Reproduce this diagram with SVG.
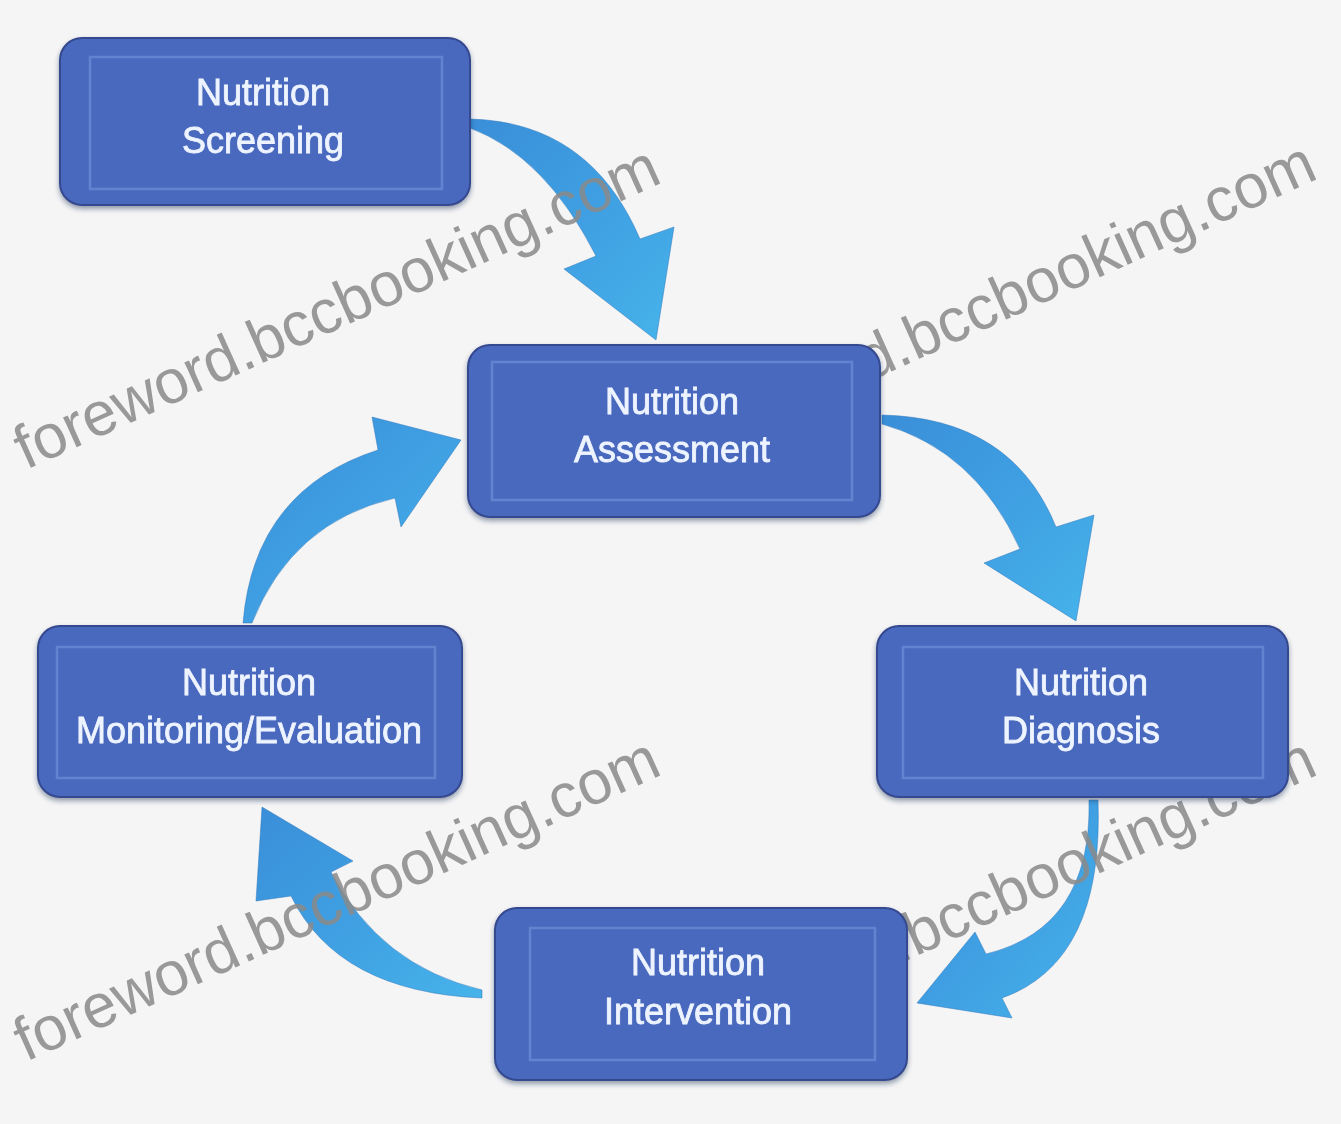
<svg xmlns="http://www.w3.org/2000/svg" width="1341" height="1124" viewBox="0 0 1341 1124">
  <defs>
    <linearGradient id="arrowGrad" x1="0" y1="0" x2="1" y2="1">
      <stop offset="0" stop-color="#3a8fd8"/>
      <stop offset="0.5" stop-color="#3f9fe2"/>
      <stop offset="1" stop-color="#46b3ea"/>
    </linearGradient>
    <filter id="shadow" x="-10%" y="-10%" width="120%" height="130%">
      <feDropShadow dx="0" dy="3" stdDeviation="2.5" flood-color="#1c2a55" flood-opacity="0.45"/>
    </filter>
  </defs>
  <style>
    .box { fill: #4a69be; stroke: #34488f; stroke-width: 2; }
    .inner { fill: none; stroke: #6d8bd6; stroke-width: 2.5; opacity: 0.75; }
    .label { font-family: "Liberation Sans", Arial, sans-serif; font-size: 36px; fill: #eef4ff; stroke: #eef4ff; stroke-width: 0.8; text-anchor: middle; }
    .arrow { fill: url(#arrowGrad); stroke: #2f78bd; stroke-width: 1; stroke-opacity: 0.5; }
    .wm { font-family: "Liberation Sans", Arial, sans-serif; font-size: 62px; fill: #8a8a8a; opacity: 0.85; }
  </style>

  <rect x="0" y="0" width="1341" height="1124" fill="#f5f5f5"/>

  <g id="connectors">
    <path class="arrow" d="M 470 119 Q 590 122 640 239 L 674 227 L 656 340 L 564 269 L 596 256 Q 545 156 470 128 Z"/>
    <path class="arrow" d="M 882 415 Q 1012 418 1056 527 L 1094 515 L 1076 621 L 984 563 L 1020 549 Q 975 450 882 424 Z"/>
    <path class="arrow" d="M 1089 800 Q 1092 928 986 954 L 975 932 L 917 1003 L 1012 1018 L 1002 998 Q 1104 962 1098 800 Z"/>
    <path class="arrow" d="M 482 998 Q 338 992 291 896 L 256 901 L 262 807 L 353 861 L 331 872 Q 380 966 482 990 Z"/>
    <path class="arrow" d="M 243 623 Q 254 490 378 450 L 372 417 L 461 440 L 401 527 L 395 498 Q 292 522 252 623 Z"/>
  </g>

  <g id="watermark">
    <text class="wm" transform="translate(26,470) rotate(-24.3)" textLength="700" lengthAdjust="spacingAndGlyphs">foreword.bccbooking.com</text>
    <text class="wm" transform="translate(682,466) rotate(-24.3)" textLength="700" lengthAdjust="spacingAndGlyphs">foreword.bccbooking.com</text>
    <text class="wm" transform="translate(26,1062) rotate(-24.3)" textLength="700" lengthAdjust="spacingAndGlyphs">foreword.bccbooking.com</text>
    <text class="wm" transform="translate(682,1062) rotate(-24.3)" textLength="700" lengthAdjust="spacingAndGlyphs">foreword.bccbooking.com</text>
  </g>

  <g id="node-screening" filter="url(#shadow)">
    <rect class="box" x="60" y="38" width="410" height="167" rx="22"/>
    <rect class="inner" x="90" y="57" width="352" height="132"/>
    <text class="label" x="263" y="105">Nutrition</text>
    <text class="label" x="263" y="153">Screening</text>
  </g>

  <g id="node-assessment" filter="url(#shadow)">
    <rect class="box" x="468" y="345" width="412" height="172" rx="22"/>
    <rect class="inner" x="492" y="362" width="360" height="138"/>
    <text class="label" x="672" y="414">Nutrition</text>
    <text class="label" x="672" y="462">Assessment</text>
  </g>

  <g id="node-diagnosis" filter="url(#shadow)">
    <rect class="box" x="877" y="626" width="411" height="171" rx="22"/>
    <rect class="inner" x="903" y="647" width="360" height="131"/>
    <text class="label" x="1081" y="695">Nutrition</text>
    <text class="label" x="1081" y="743">Diagnosis</text>
  </g>

  <g id="node-monitoring" filter="url(#shadow)">
    <rect class="box" x="38" y="626" width="424" height="171" rx="22"/>
    <rect class="inner" x="57" y="647" width="378" height="131"/>
    <text class="label" x="249" y="695">Nutrition</text>
    <text class="label" x="249" y="743">Monitoring/Evaluation</text>
  </g>

  <g id="node-intervention" filter="url(#shadow)">
    <rect class="box" x="495" y="908" width="412" height="172" rx="22"/>
    <rect class="inner" x="530" y="928" width="345" height="132"/>
    <text class="label" x="698" y="975">Nutrition</text>
    <text class="label" x="698" y="1024">Intervention</text>
  </g>
</svg>
